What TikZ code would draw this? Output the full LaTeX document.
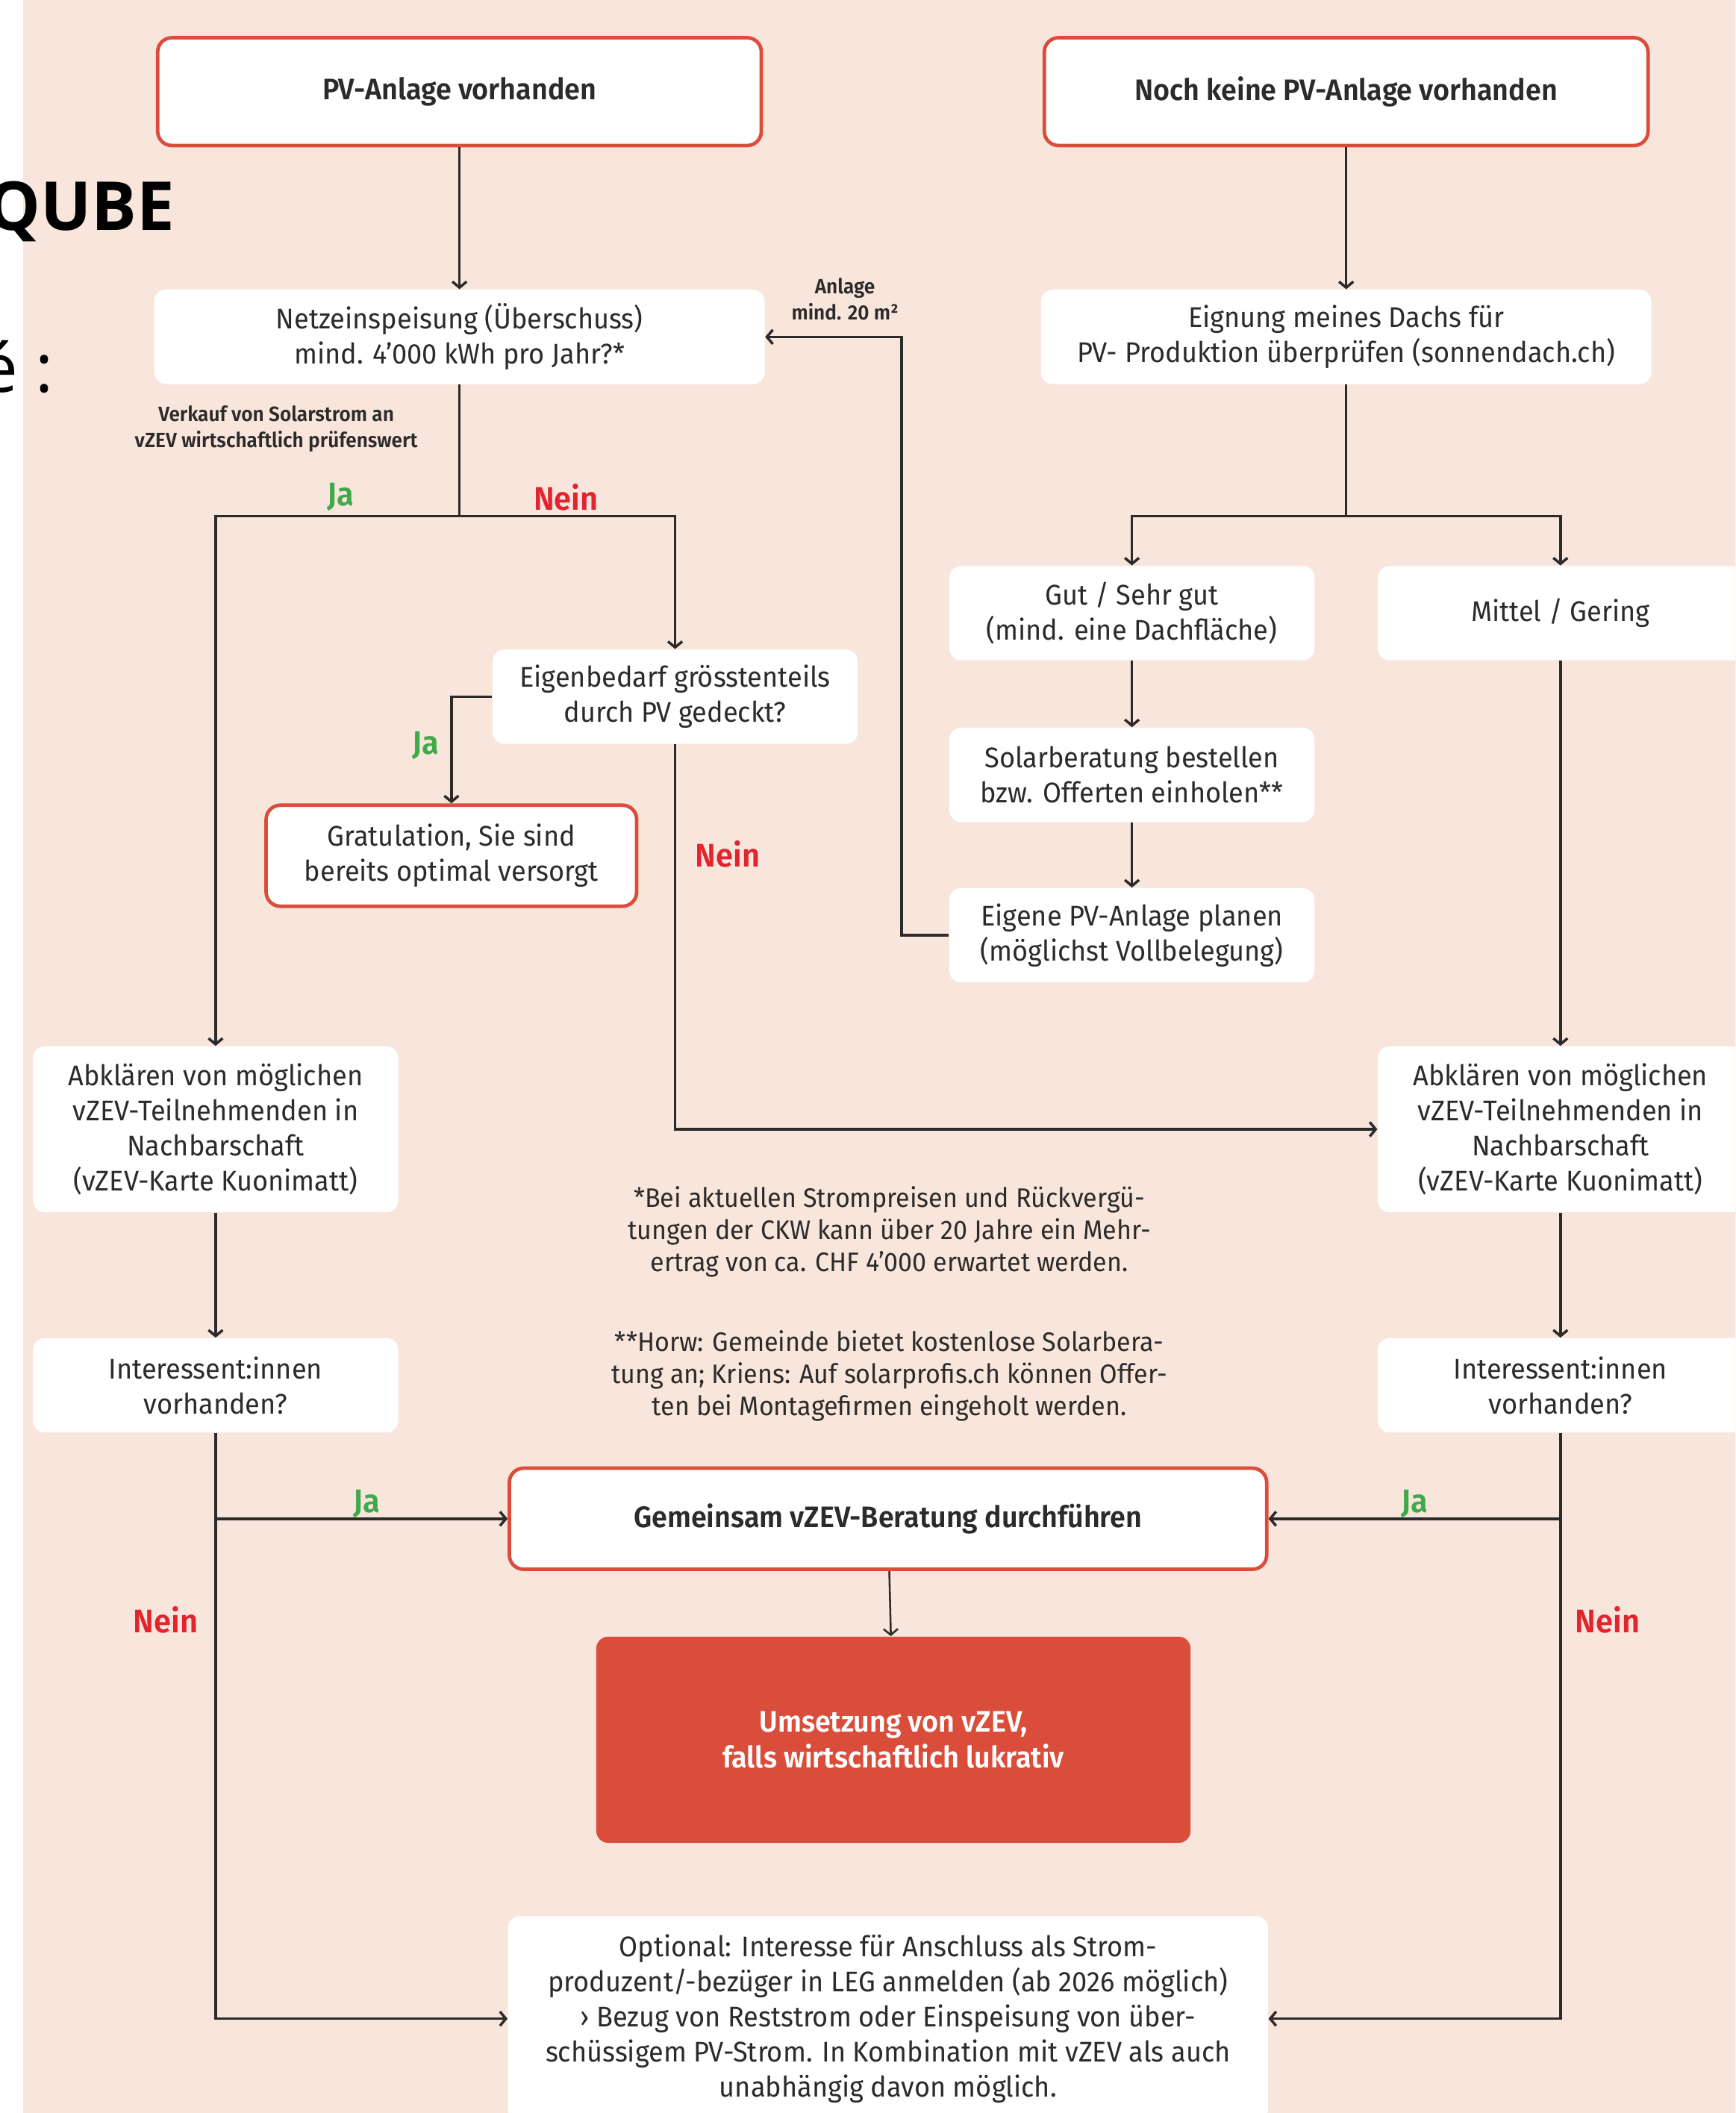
\documentclass[tikz,border=0pt]{standalone}
\usepackage{fontspec}
\setmainfont{Fira Sans}[FakeStretch=0.95, BoldFont={Fira Sans SemiBold}]
\newfontfamily\qubefont{Open Sans}
\usetikzlibrary{arrows.meta}

\definecolor{ckwred}{RGB}{219,77,59}
\definecolor{peach}{RGB}{248,230,221}
\definecolor{ink}{RGB}{45,42,42}
\definecolor{jagreen}{RGB}{64,170,74}
\definecolor{neinred}{RGB}{226,36,46}

\newcommand\boxfont{\fontsize{12}{14.8}\selectfont}
\newcommand\headfont{\fontsize{12.5}{15}\selectfont\bfseries}
\newcommand\notefont{\fontsize{11.3}{13.6}\selectfont}
\newcommand\smallnote{\fontsize{8.7}{11}\selectfont\bfseries}
\newcommand\jnfont{\fontsize{13.8}{15}\selectfont\bfseries}

\begin{document}
\begin{tikzpicture}[x=0.02cm,y=-0.02cm,
    every node/.style={text=ink, align=center, inner sep=0pt},
    wbox/.style={fill=white, rounded corners=5pt, font=\boxfont,
        minimum width=271\gr, minimum height=70\gr},
    rbox/.style={wbox, draw=ckwred, line width=1.5pt, rounded corners=6pt},
    arr/.style={draw=ink, line width=1.1pt, -{Straight Barb[length=2.5pt,width=6pt]}},
    ja/.style={text=jagreen, font=\jnfont},
    nein/.style={text=neinred, font=\jnfont},
    note/.style={font=\notefont}]
    \newdimen\gr
    \gr = 0.02cm
    \useasboundingbox (0,0) rectangle (1288,1568);
    \clip (0,0) rectangle (1288,1568);
    \fill[white] (0,0) rectangle (17,1568);
    \fill[peach] (17,0) rectangle (1292,1572);
    \node[anchor=east, text=black, font=\fontsize{28.5}{30}\qubefont\bfseries] (qube) at (130,157) {QUBE};
    \node[anchor=east, text=black, font=\fontsize{28.5}{30}\qubefont] (ecol) at (40,272) {é :};

    \node[rbox, minimum width=448\gr, minimum height=80\gr, font=\headfont] (pv) at (341,68) {PV-Anlage vorhanden};
    \node[rbox, minimum width=448\gr, minimum height=80\gr, font=\headfont] (nopv) at (999,68) {Noch keine PV-Anlage vorhanden};
    \node[wbox, minimum width=453\gr] (netz) at (341,250) {Netzeinspeisung (Überschuss)\\mind. 4’000 kWh pro Jahr?*};
    \node[wbox, minimum width=453\gr] (dach) at (999,250) {Eignung meines Dachs für\\PV- Produktion überprüfen (sonnendach.ch)};
    \node[font=\smallnote] (verkauf) at (205,318) {Verkauf von Solarstrom an\\vZEV wirtschaftlich prüfenswert};
    \node[font=\smallnote] (flaeche) at (627,222) {Anlage\\mind. 20 m²};

    \node[wbox] (eigen) at (501,517) {Eigenbedarf grösstenteils\\durch PV gedeckt?};
    \node[rbox, minimum width=275\gr, minimum height=75\gr] (grat) at (335,635) {Gratulation, Sie sind\\bereits optimal versorgt};
    \node[wbox] (gut) at (840,455) {Gut / Sehr gut\\(mind. eine Dachfläche)};
    \node[wbox] (mittel) at (1158,455) {Mittel / Gering};
    \node[wbox] (solar) at (840,575) {Solarberatung bestellen\\bzw. Offerten einholen**};
    \node[wbox] (plan) at (840,694) {Eigene PV-Anlage planen\\(möglichst Vollbelegung)};

    \node[wbox, minimum height=123\gr] (abkl) at (160,838) {Abklären von möglichen\\vZEV-Teilnehmenden in\\Nachbarschaft\\(vZEV-Karte Kuonimatt)};
    \node[wbox, minimum height=123\gr] (abkr) at (1158,838) {Abklären von möglichen\\vZEV-Teilnehmenden in\\Nachbarschaft\\(vZEV-Karte Kuonimatt)};
    \node[wbox] (intl) at (160,1028) {Interessent:innen\\vorhanden?};
    \node[wbox] (intr) at (1158,1028) {Interessent:innen\\vorhanden?};

    \node[note] (fn1) at (660,914) {*Bei aktuellen Strompreisen und Rückvergü-\\tungen der CKW kann über 20 Jahre ein Mehr-\\ertrag von ca. CHF 4’000 erwartet werden.};
    \node[note] (fn2) at (660,1021) {**Horw: Gemeinde bietet kostenlose Solarbera-\\tung an; Kriens: Auf solarprofis.ch können Offer-\\ten bei Montagefirmen eingeholt werden.};

    \node[rbox, minimum width=562\gr, minimum height=75\gr, font=\headfont] (gem) at (659,1127) {Gemeinsam vZEV-Beratung durchführen};
    \node[fill=ckwred, rounded corners=5pt, minimum width=441\gr, minimum height=153\gr, text=white, font=\headfont] (ums) at (663,1291) {Umsetzung von vZEV,\\falls wirtschaftlich lukrativ};
    \node[wbox, minimum width=564\gr, minimum height=152\gr] (opt) at (659,1498) {Optional: Interesse für Anschluss als Strom-\\produzent/-bezüger in LEG anmelden (ab 2026 möglich)\\› Bezug von Reststrom oder Einspeisung von über-\\schüssigem PV-Strom. In Kombination mit vZEV als auch\\unabhängig davon möglich.};

    \coordinate (splitl) at (341,383);
    \coordinate (splitr) at (999,383);
    \draw[arr] (pv) -- (netz);
    \draw[arr] (nopv) -- (dach);
    \draw[line width=1.1pt, ink] (netz) -- (splitl);
    \draw[arr] (splitl) -| (abkl);
    \draw[arr] (splitl) -| (eigen);
    \draw[arr] (eigen.west) -| (grat);
    \draw[arr] (eigen.south) |- (abkr.west);
    \draw[line width=1.1pt, ink] (dach) -- (splitr);
    \draw[arr] (splitr) -| (gut);
    \draw[arr] (splitr) -| (mittel);
    \draw[arr] (gut) -- (solar);
    \draw[arr] (solar) -- (plan);
    \draw[arr] (plan.west) -- ++(-35,0) |- (netz.east);
    \draw[arr] (mittel) -- (abkr);
    \draw[arr] (abkl) -- (intl);
    \draw[arr] (abkr) -- (intr);
    \draw[arr] (intl.south) |- (opt.west);
    \draw[arr] (intl.south |- gem.west) -- (gem.west);
    \draw[arr] (intr.south) |- (opt.east);
    \draw[arr] (intr.south |- gem.east) -- (gem.east);
    \draw[arr, line width=0.8pt] (gem) -- (ums);

    \node[ja] (ja1) at (253,369) {Ja};
    \node[nein] (nein1) at (420,369) {Nein};
    \node[ja] (ja2) at (316,553) {Ja};
    \node[nein] (nein2) at (540,634) {Nein};
    \node[ja] (ja3) at (272,1116) {Ja};
    \node[nein] (nein3) at (123,1202) {Nein};
    \node[ja] (ja4) at (1050,1116) {Ja};
    \node[nein] (nein4) at (1193,1202) {Nein};
\end{tikzpicture}
\end{document}
